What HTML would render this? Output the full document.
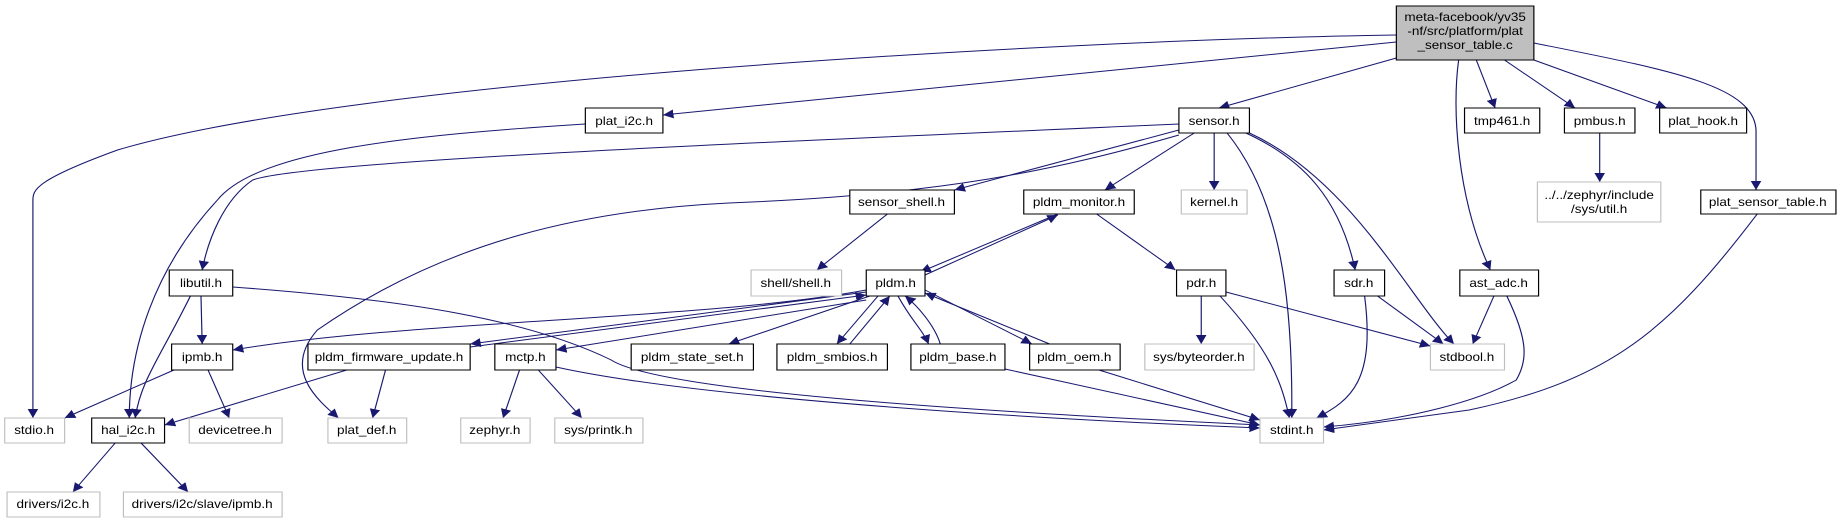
<!DOCTYPE html>
<html><head><meta charset="utf-8"><style>html,body{margin:0;padding:0;background:#fff;overflow:hidden}svg{display:block}</style></head>
<body>
<svg width="1843" height="529" viewBox="0 0 1568 529" preserveAspectRatio="none" xmlns="http://www.w3.org/2000/svg">
<defs><marker id="a" viewBox="0 0 10 10" refX="10" refY="5" markerWidth="9" markerHeight="9" markerUnits="userSpaceOnUse" orient="auto"><path d="M0,0 L10,5 L0,10 z" fill="#191970"/></marker></defs>
<g fill="none" stroke="#191970" stroke-width="1" marker-end="url(#a)">
<path d="M1188,35 C900,40 300,80 100,150 C30,180 28,190 28,200 L28,418"/>
<path d="M1188,42 L564,115"/>
<path d="M1188,58 L1037,108"/>
<path d="M1256,60 L1272,108"/>
<path d="M1280,60 L1340,108"/>
<path d="M1305,60 L1418,108"/>
<path d="M1305,43 C1420,70 1492,85 1494,130 L1494,190"/>
<path d="M1241,60 C1235,110 1240,200 1268,270"/>
<path d="M498,124 C350,135 220,150 185,200 C130,270 110,350 110,418"/>
<path d="M1003,124 C700,140 260,160 215,180 C190,200 177,240 172,270"/>
<path d="M1003,135 C900,170 800,195 620,203 C500,210 380,240 270,330 C240,370 270,400 288,418"/>
<path d="M1003,130 L812,190"/>
<path d="M1016,133 L940,190"/>
<path d="M1033,133 L1033,190"/>
<path d="M1044,133 C1090,200 1100,300 1099,418"/>
<path d="M1060,133 C1110,160 1140,200 1153,270"/>
<path d="M1063,133 C1150,180 1200,300 1237,344"/>
<path d="M1361,133 L1361,182"/>
<path d="M1495,214 C1420,330 1370,380 1250,410 L1126,430"/>
<path d="M1271,296 L1253,344"/>
<path d="M1282,296 C1300,340 1300,360 1290,380 C1260,400 1200,420 1126,427"/>
<path d="M1172,296 L1228,344"/>
<path d="M1161,296 C1170,380 1150,400 1120,418"/>
<path d="M1022,296 L1022,344"/>
<path d="M1043,292 L1217,346"/>
<path d="M1038,296 C1080,350 1090,380 1097,418"/>
<path d="M933,214 L1000,270"/>
<path d="M900,214 L783,272"/>
<path d="M787,275 L900,215"/>
<path d="M755,214 L695,270"/>
<path d="M171,296 L172,344"/>
<path d="M162,296 C135,360 120,380 115,418"/>
<path d="M198,287 C350,300 450,320 520,360 C560,390 800,410 1072,425"/>
<path d="M737,290 C600,320 350,320 198,350"/>
<path d="M737,292 L400,344"/>
<path d="M400,347 L737,295"/>
<path d="M737,300 L473,350"/>
<path d="M740,296 L620,344"/>
<path d="M747,296 L712,344"/>
<path d="M723,344 L757,296"/>
<path d="M764,296 C775,320 785,330 790,344"/>
<path d="M800,344 C795,325 780,305 770,296"/>
<path d="M787,290 L878,344"/>
<path d="M893,344 L787,293"/>
<path d="M295,370 L140,425"/>
<path d="M328,370 L317,418"/>
<path d="M148,370 L55,418"/>
<path d="M177,370 L195,418"/>
<path d="M442,370 L428,418"/>
<path d="M458,370 L495,418"/>
<path d="M473,367 C600,400 900,420 1072,428"/>
<path d="M855,369 L1072,425"/>
<path d="M935,370 L1072,420"/>
<path d="M98,443 L62,492"/>
<path d="M120,443 L160,492"/>
</g>
<g font-family="Liberation Sans, sans-serif" font-size="11.5" text-anchor="middle" fill="#000">
<rect x="1188" y="6" width="117" height="54" fill="#bfbfbf" stroke="#000"/>
<text x="1246.5" y="21">meta-facebook/yv35</text><text x="1246.5" y="35">-nf/src/platform/plat</text><text x="1246.5" y="49">_sensor_table.c</text>
<g stroke="#000" fill="#fff">
<rect x="498" y="108" width="66" height="25"/><rect x="1003" y="108" width="60" height="25"/>
<rect x="1246" y="108" width="64" height="25"/><rect x="1331" y="108" width="60" height="25"/>
<rect x="1412" y="108" width="74" height="25"/>
<rect x="723" y="190" width="89" height="24"/><rect x="871" y="190" width="94" height="24"/>
<rect x="1447" y="190" width="115" height="24"/>
<rect x="144" y="270" width="54" height="26"/><rect x="737" y="270" width="50" height="26"/>
<rect x="1001" y="270" width="42" height="26"/><rect x="1135" y="270" width="43" height="26"/>
<rect x="1242" y="270" width="67" height="26"/>
<rect x="146" y="344" width="52" height="26"/><rect x="262" y="344" width="138" height="26"/>
<rect x="421" y="344" width="52" height="26"/><rect x="537" y="344" width="104" height="26"/>
<rect x="661" y="344" width="94" height="26"/><rect x="775" y="344" width="80" height="26"/>
<rect x="876" y="344" width="77" height="26"/>
<rect x="78" y="418" width="62" height="25"/>
</g>
<g stroke="#bfbfbf" fill="#fff">
<rect x="1005" y="190" width="56" height="24"/><rect x="1308" y="182" width="105" height="40"/>
<rect x="639" y="270" width="77" height="26"/>
<rect x="974" y="344" width="93" height="26"/><rect x="1217" y="344" width="63" height="26"/>
<rect x="4" y="418" width="51" height="25"/><rect x="161" y="418" width="79" height="25"/>
<rect x="279" y="418" width="67" height="25"/><rect x="392" y="418" width="59" height="25"/>
<rect x="472" y="418" width="75" height="25"/><rect x="1072" y="418" width="54" height="25"/>
<rect x="6" y="492" width="79" height="25"/><rect x="105" y="492" width="135" height="25"/>
</g>
<text x="531" y="125">plat_i2c.h</text><text x="1033" y="125">sensor.h</text>
<text x="1278" y="125">tmp461.h</text><text x="1361" y="125">pmbus.h</text><text x="1449" y="125">plat_hook.h</text>
<text x="767" y="206">sensor_shell.h</text><text x="918" y="206">pldm_monitor.h</text>
<text x="1033" y="206">kernel.h</text><text x="1360.5" y="199">../../zephyr/include</text><text x="1360.5" y="213">/sys/util.h</text>
<text x="1504" y="206">plat_sensor_table.h</text>
<text x="171" y="287">libutil.h</text><text x="677" y="287">shell/shell.h</text><text x="762" y="287">pldm.h</text>
<text x="1022" y="287">pdr.h</text><text x="1156" y="287">sdr.h</text><text x="1275" y="287">ast_adc.h</text>
<text x="172" y="361">ipmb.h</text><text x="331" y="361">pldm_firmware_update.h</text><text x="447" y="361">mctp.h</text>
<text x="589" y="361">pldm_state_set.h</text><text x="708" y="361">pldm_smbios.h</text><text x="815" y="361">pldm_base.h</text>
<text x="914" y="361">pldm_oem.h</text><text x="1020" y="361">sys/byteorder.h</text><text x="1248" y="361">stdbool.h</text>
<text x="29" y="434">stdio.h</text><text x="109" y="434">hal_i2c.h</text><text x="200" y="434">devicetree.h</text>
<text x="312" y="434">plat_def.h</text><text x="421" y="434">zephyr.h</text><text x="509" y="434">sys/printk.h</text>
<text x="1099" y="434">stdint.h</text>
<text x="45" y="508">drivers/i2c.h</text><text x="172" y="508">drivers/i2c/slave/ipmb.h</text>
</g>
</svg>
</body></html>
